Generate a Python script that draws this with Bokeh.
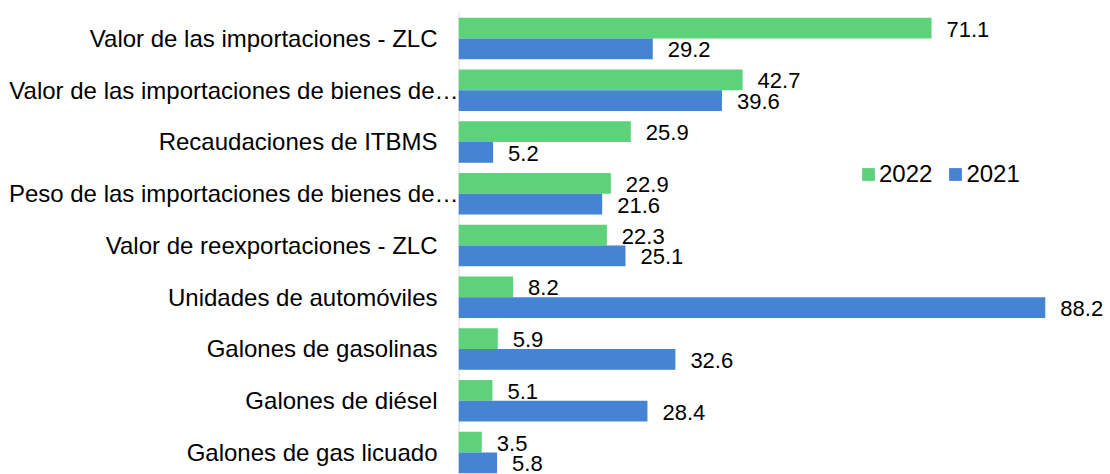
import numpy as np
from bokeh.plotting import figure
from bokeh.layouts import row
from bokeh.models import ColumnDataSource, LabelSet, Span, Range1d
from bokeh.core.properties import value
from bokeh.embed import file_html
from bokeh.resources import INLINE

categories = [
    "Valor de las importaciones - ZLC",
    "Valor de las importaciones de bienes de…",
    "Recaudaciones de ITBMS",
    "Peso de las importaciones de bienes de…",
    "Valor de reexportaciones - ZLC",
    "Unidades de automóviles",
    "Galones de gasolinas",
    "Galones de diésel",
    "Galones de gas licuado",
]
values_2022 = [71.1, 42.7, 25.9, 22.9, 22.3, 8.2, 5.9, 5.1, 3.5]
values_2021 = [29.2, 39.6, 5.2, 21.6, 25.1, 88.2, 32.6, 28.4, 5.8]
series_names = ["2022", "2021"]

GREEN = "#5DD27A"
BLUE = "#4584D3"
FONT = "Liberation Sans"

pos = np.arange(len(categories), dtype=float)
off = 0.2

y_range = Range1d(8.425, -0.502)

src = ColumnDataSource(dict(
    cat=categories,
    y=pos,
    y22=pos - off,
    y21=pos + off,
    v22=values_2022,
    v21=values_2021,
    t22=[f"{v:.1f}" for v in values_2022],
    t21=[f"{v:.1f}" for v in values_2021],
    cat_off=[0 if c.endswith("…") else -21 for c in categories],
))

# category label panel
lp = figure(width=458, height=474, output_backend="svg", toolbar_location=None,
            x_range=Range1d(0, 1), y_range=y_range,
            x_axis_location=None, y_axis_location=None,
            min_border_left=0, min_border_right=0, min_border_top=12, min_border_bottom=0,
            outline_line_color=None, background_fill_color="white", border_fill_color="white")
lp.grid.visible = False
lp.text(x=1, y="y", text="cat", source=src, x_offset="cat_off",
        text_align="right", text_baseline="middle",
        text_font=value(FONT), text_font_size="24px", text_color="#000000")

# bar panel
p = figure(width=652, height=474, output_backend="svg", toolbar_location=None,
           x_range=Range1d(0, 98.0), y_range=y_range,
           x_axis_location=None, y_axis_location=None,
           min_border_left=0, min_border_right=0, min_border_top=12, min_border_bottom=0,
           outline_line_color=None, background_fill_color="white", border_fill_color="white")
p.grid.visible = False

p.add_layout(Span(location=0, dimension="height", line_color="#D9D9D9", line_width=2, level="underlay"))

p.hbar(y="y22", right="v22", left=0, height=0.4, source=src, fill_color=GREEN,
       line_color=None, legend_label=series_names[0])
p.hbar(y="y21", right="v21", left=0, height=0.4, source=src, fill_color=BLUE,
       line_color=None, legend_label=series_names[1])

for xf, yf, tf in (("v22", "y22", "t22"), ("v21", "y21", "t21")):
    p.add_layout(LabelSet(x=xf, y=yf, text=tf, source=src, x_offset=15, y_offset=-1,
                          text_align="left", text_baseline="middle",
                          text_font=value(FONT), text_font_size="22px", text_color="#000000"))

lg = p.legend[0]
lg.location = (402, 286)
lg.orientation = "horizontal"
lg.background_fill_alpha = 0
lg.border_line_color = None
lg.padding = 0
lg.margin = 0
lg.glyph_width = 16
lg.glyph_height = 16
lg.label_standoff = 3
lg.spacing = 15
lg.label_text_font = FONT
lg.label_text_font_size = "24px"
lg.label_text_color = "#000000"

layout = row(lp, p, spacing=0)
open("out.html", "w").write(file_html(layout, INLINE))
